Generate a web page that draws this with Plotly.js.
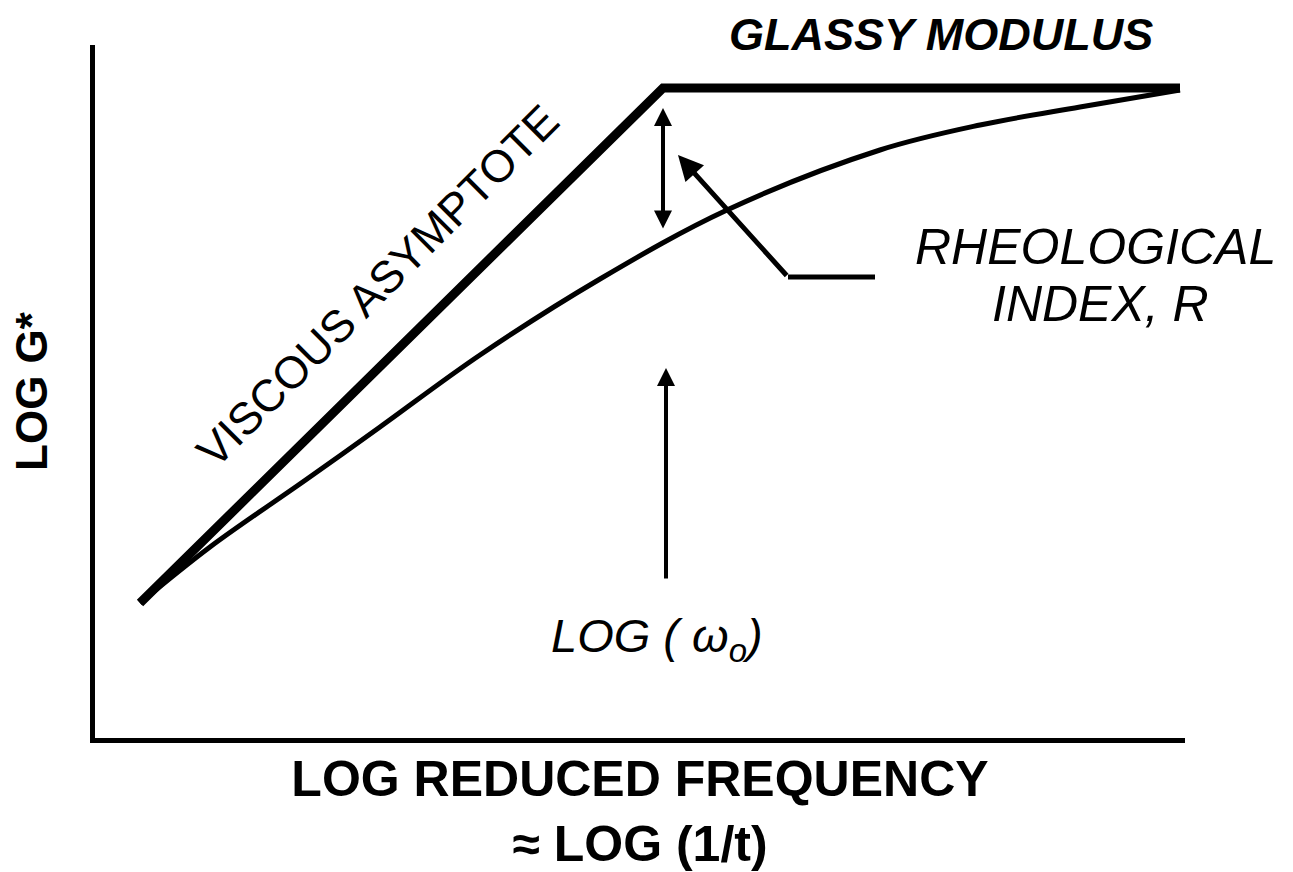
<!DOCTYPE html>
<html>
<head>
<meta charset="utf-8">
<script src="https://cdn.plot.ly/plotly-3.0.1.min.js"></script>
<style>
  html, body { margin: 0; padding: 0; background: #fff; }
  #chart { width: 1293px; height: 872px; }
</style>
</head>
<body>
<div id="chart"></div>
<script>
// asymptotes: viscous (slope) then glassy modulus (flat)
const freqAsymptote = [0.45, 5.68, 10.85];
const modAsymptote = [1.35, 6.50, 6.50];

// master curve
const freqCurve = [0.45, 1.15, 2.12, 2.85, 3.85, 5.05, 6.32, 7.85, 8.85, 9.85, 10.85];
const modCurve = [1.35, 1.91, 2.59, 3.11, 3.83, 4.59, 5.28, 5.88, 6.13, 6.31, 6.48];

// crossover frequency and the rheological index span
const logOmega0 = 5.68;
const rIndexSpan = [6.30, 5.08];
const omegaArrow = [1.58, 3.70];

// leader for the "rheological index" label
const leaderX = [7.80, 6.93, 5.83];
const leaderY = [4.61, 4.61, 5.83];

const FONT = 'Liberation Sans, Arial, Helvetica, sans-serif';

const data = [
  {
    x: freqCurve,
    y: modCurve,
    mode: 'lines',
    line: { color: '#000', width: 5, shape: 'spline', smoothing: 1 },
    hoverinfo: 'skip'
  },
  {
    x: freqAsymptote,
    y: modAsymptote,
    mode: 'lines',
    line: { color: '#000', width: 9 },
    hoverinfo: 'skip'
  },
  {
    x: leaderX.slice(0, 2),
    y: leaderY.slice(0, 2),
    mode: 'lines',
    line: { color: '#000', width: 5 },
    hoverinfo: 'skip'
  }
];

const label = (text, x, y, font, opts) => Object.assign({
  text: text, x: x, y: y, xref: 'x', yref: 'y',
  showarrow: false,
  font: Object.assign({ family: FONT, color: '#000' }, font)
}, opts || {});

const arrow = (x, y, ax, ay, width, size, extra) => Object.assign({
  x: x, y: y, ax: ax, ay: ay,
  xref: 'x', yref: 'y', axref: 'x', ayref: 'y',
  text: '', showarrow: true, arrowhead: 2, arrowwidth: width, arrowsize: size,
  arrowcolor: '#000'
}, extra || {});

const layout = {
  width: 1293,
  height: 872,
  margin: { l: 95, r: 108, t: 45, b: 134 },
  paper_bgcolor: '#fff',
  plot_bgcolor: '#fff',
  showlegend: false,
  xaxis: {
    range: [0, 10.9],
    showline: true, linecolor: '#000', linewidth: 5,
    showgrid: false, zeroline: false, showticklabels: false, ticks: '',
    title: {
      text: 'LOG REDUCED FREQUENCY<br>\u2248 LOG (1/t)',
      font: { family: FONT, size: 50, weight: 'bold', color: '#000' },
      standoff: 22
    }
  },
  yaxis: {
    range: [0, 6.93],
    showline: true, linecolor: '#000', linewidth: 5,
    showgrid: false, zeroline: false, showticklabels: false, ticks: '',
    title: {
      text: 'LOG G*',
      font: { family: FONT, size: 44, weight: 'bold', color: '#000' },
      standoff: 30
    }
  },
  annotations: [
    label('GLASSY MODULUS', 8.46, 1.015, { size: 45, weight: 'bold', style: 'italic' },
      { yref: 'paper', yanchor: 'middle' }),
    label('RHEOLOGICAL', 10.0, 4.91, { size: 50, style: 'italic' }),
    label('INDEX, R', 10.05, 4.34, { size: 50, style: 'italic' }),
    label('LOG ( \u03c9<sub>o</sub>)', 5.62, 0.99, { size: 47, style: 'italic' }),
    label('VISCOUS ASYMPTOTE', 2.82, 4.52, { size: 45 }, { textangle: -45 }),
    // double arrow spanning the rheological index
    arrow(logOmega0, rIndexSpan[0], logOmega0, rIndexSpan[1], 4, 0.9,
      { arrowside: 'end+start', startarrowhead: 2, startarrowsize: 0.9 }),
    // leader arrow pointing at the span
    arrow(leaderX[2], leaderY[2], leaderX[1], leaderY[1], 5, 1),
    // crossover frequency marker
    arrow(logOmega0 + 0.03, omegaArrow[1], logOmega0 + 0.03, omegaArrow[0], 4, 0.9)
  ]
};

Plotly.newPlot('chart', data, layout, { staticPlot: true, displayModeBar: false });
</script>
</body>
</html>
